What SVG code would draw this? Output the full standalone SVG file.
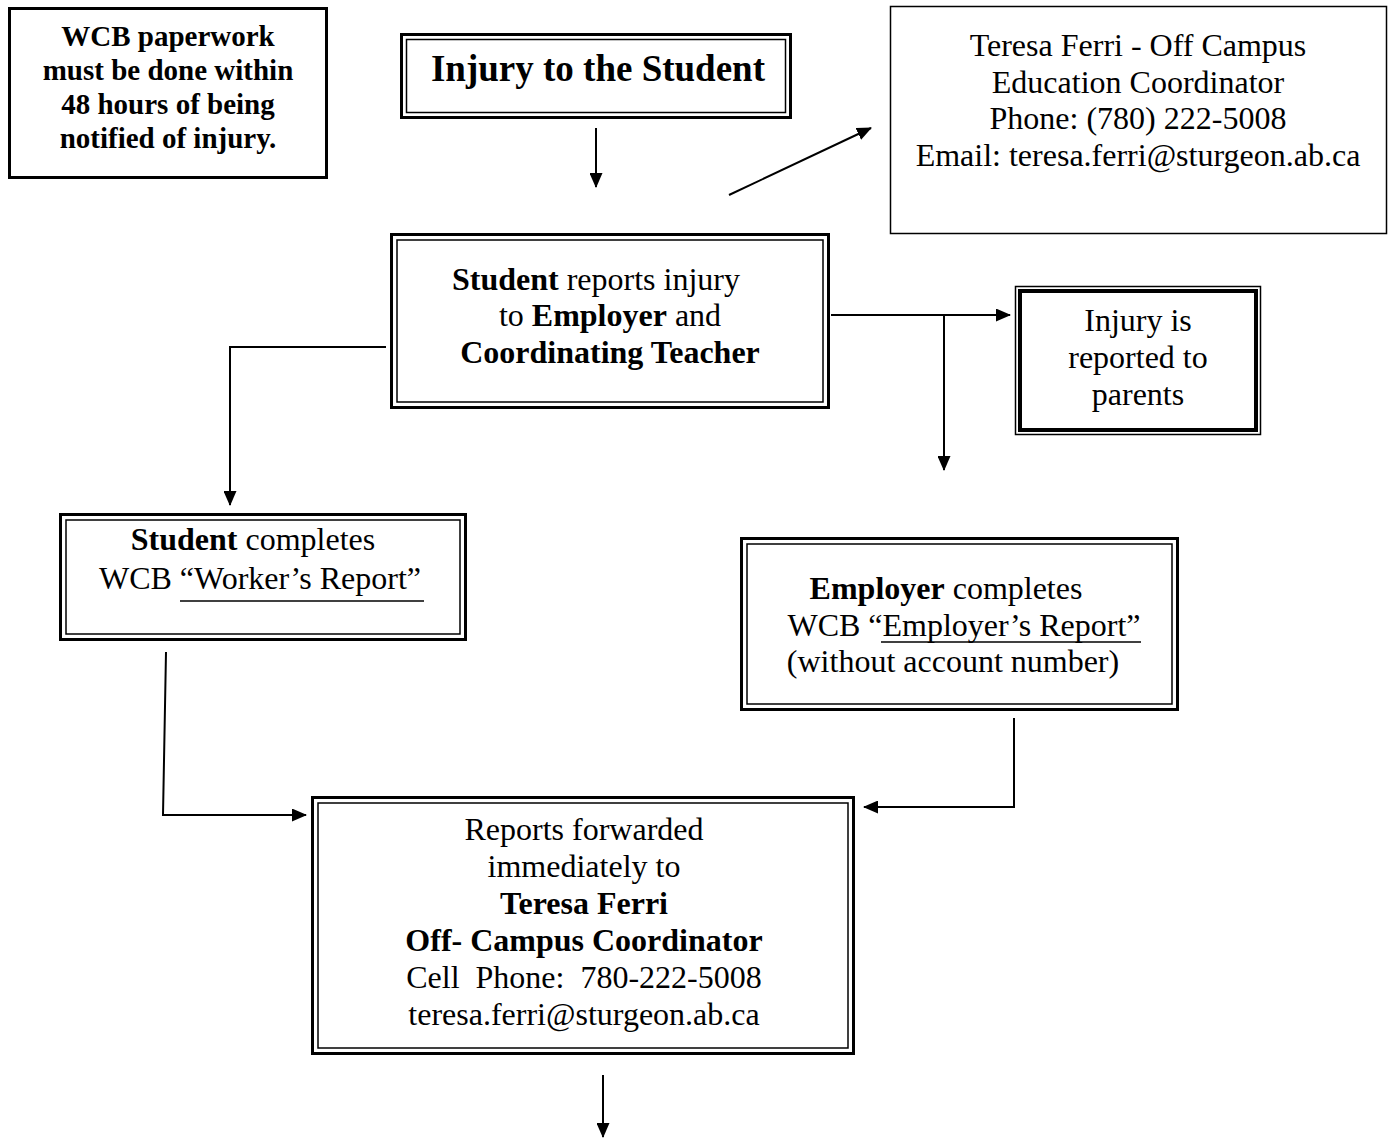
<svg xmlns="http://www.w3.org/2000/svg" width="1389" height="1138" viewBox="0 0 1389 1138">
<defs>
<style>
text{font-family:"Liberation Serif","Times New Roman",serif;font-size:32px;fill:#000;text-anchor:middle;white-space:pre}
.b{font-weight:bold}
.note{font-size:29px;font-weight:bold}
.thick{fill:none;stroke:#000;stroke-width:3}
.thin{fill:none;stroke:#000;stroke-width:1.5}
.c{fill:none;stroke:#000;stroke-width:2}
.u{stroke:#000;stroke-width:1.5}
</style>
<marker id="ah" viewBox="0 0 15 13" refX="14" refY="6.5" markerWidth="15" markerHeight="13" markerUnits="userSpaceOnUse" orient="auto"><path d="M0,0 L15,6.5 L0,13 z" fill="#000"/></marker>
</defs>
<rect width="1389" height="1138" fill="#fff"/>

<g id="note">
<rect x="9.5" y="8.5" width="317" height="169" fill="none" stroke="#000" stroke-width="3"/>
<text class="note" x="168" y="46">WCB paperwork</text>
<text class="note" x="168" y="80">must be done within</text>
<text class="note" x="168" y="114">48 hours of being</text>
<text class="note" x="168" y="148">notified of injury.</text>
</g>

<g id="title">
<rect class="thick" x="401.5" y="34.5" width="389" height="83"/>
<rect class="thin" x="406.5" y="39.5" width="379" height="73"/>
<text class="b" x="598" y="81" style="font-size:37px">Injury to the Student</text>
</g>

<g id="contact">
<rect x="890.5" y="6.5" width="496" height="227" fill="none" stroke="#000" stroke-width="1.5"/>
<text x="1138" y="56">Teresa Ferri - Off Campus</text>
<text x="1138" y="93">Education Coordinator</text>
<text x="1138" y="129">Phone: (780) 222-5008</text>
<text x="1138" y="166">Email: teresa.ferri@sturgeon.ab.ca</text>
</g>

<g id="reports">
<rect class="thick" x="391.5" y="234.5" width="437" height="173"/>
<rect class="thin" x="397" y="240" width="426" height="162"/>
<text x="596" y="290"><tspan class="b">Student</tspan> reports injury</text>
<text x="610" y="326">to <tspan class="b">Employer</tspan> and</text>
<text class="b" x="610" y="363">Coordinating Teacher</text>
</g>

<g id="parents">
<rect class="thin" x="1015.5" y="286.5" width="245" height="148"/>
<rect x="1020" y="291" width="236" height="139" fill="none" stroke="#000" stroke-width="4"/>
<text x="1138" y="331">Injury is</text>
<text x="1138" y="368">reported to</text>
<text x="1138" y="405">parents</text>
</g>

<g id="worker">
<rect class="thick" x="60.5" y="514.5" width="405" height="125"/>
<rect class="thin" x="66" y="520" width="394" height="114"/>
<text x="253" y="550"><tspan class="b">Student</tspan> completes</text>
<text x="260" y="589">WCB “Worker’s Report”</text>
<line class="u" x1="180" y1="601" x2="424" y2="601"/>
</g>

<g id="employer">
<rect class="thick" x="741.5" y="538.5" width="436" height="171"/>
<rect class="thin" x="747" y="544" width="425" height="160"/>
<text x="946" y="599"><tspan class="b">Employer</tspan> completes</text>
<text x="964" y="636">WCB “Employer’s Report”</text>
<line class="u" x1="881" y1="642" x2="1141" y2="642"/>
<text x="953" y="672">(without account number)</text>
</g>

<g id="forwarded">
<rect class="thick" x="312.5" y="797.5" width="541" height="256"/>
<rect class="thin" x="318" y="803" width="530" height="245"/>
<text x="584" y="840">Reports forwarded</text>
<text x="584" y="877">immediately to</text>
<text class="b" x="584" y="914">Teresa Ferri</text>
<text class="b" x="584" y="951">Off- Campus Coordinator</text>
<text x="584" y="988">Cell  Phone:  780-222-5008</text>
<text x="584" y="1025">teresa.ferri@sturgeon.ab.ca</text>
</g>

<g id="connectors">
<line class="c" x1="596" y1="128" x2="596" y2="187" marker-end="url(#ah)"/>
<line class="c" x1="729" y1="195" x2="871" y2="128" marker-end="url(#ah)"/>
<polyline class="c" points="386,347 230,347 230,505" marker-end="url(#ah)"/>
<line class="c" x1="831" y1="315" x2="1010" y2="315" marker-end="url(#ah)"/>
<line class="c" x1="944" y1="315" x2="944" y2="470" marker-end="url(#ah)"/>
<polyline class="c" points="166,652 163,815 306,815" marker-end="url(#ah)"/>
<polyline class="c" points="1014,718 1014,807 864,807" marker-end="url(#ah)"/>
<line class="c" x1="603" y1="1075" x2="603" y2="1137" marker-end="url(#ah)"/>
</g>
</svg>
